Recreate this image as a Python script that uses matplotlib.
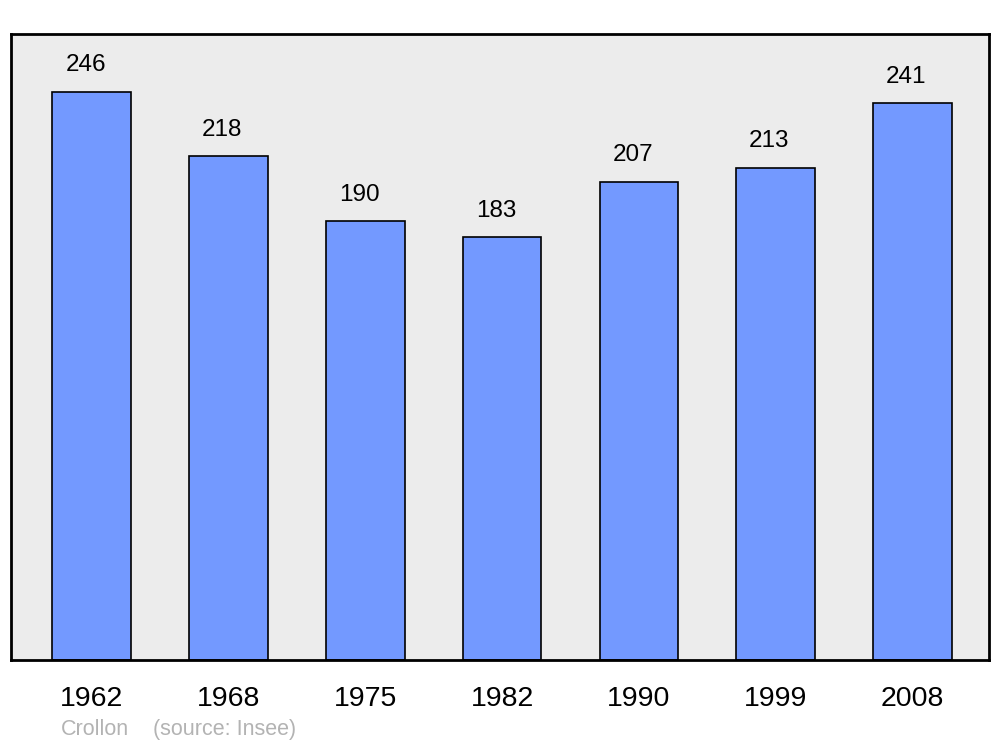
import matplotlib.pyplot as plt

# population by census year
years = ["1962", "1968", "1975", "1982", "1990", "1999", "2008"]
population = [246, 218, 190, 183, 207, 213, 241]

plt.rcParams['font.family'] = ['Liberation Sans', 'DejaVu Sans']

fig = plt.figure(figsize=(10, 7.47), dpi=100)
ax = fig.add_axes([0.011, 0.1165, 0.978, 0.838])
ax.set_facecolor('#ececec')

x = range(len(years))
bars = ax.bar(x, population, width=0.575, color='#7399ff', edgecolor='black', linewidth=1.2)
for xi, v in zip(x, population):
    ax.text(xi - 0.045, v + 11.5, str(v), ha='center', va='center', fontsize=17.5)

ax.set_xlim(-0.59, 6.56)
ax.set_ylim(0, 271)
ax.set_yticks([])
ax.set_xticks(list(x))
ax.set_xticklabels(years, fontsize=20.5)
ax.tick_params(axis='x', length=0, pad=19)
for s in ax.spines.values():
    s.set_linewidth(2)

fig.text(0.061, 0.009, "Crollon", fontsize=15.5, color='#b3b3b3', va='bottom')
fig.text(0.153, 0.009, "(source: Insee)", fontsize=15.5, color='#b3b3b3', va='bottom')

fig.savefig('out.png', dpi=100)
